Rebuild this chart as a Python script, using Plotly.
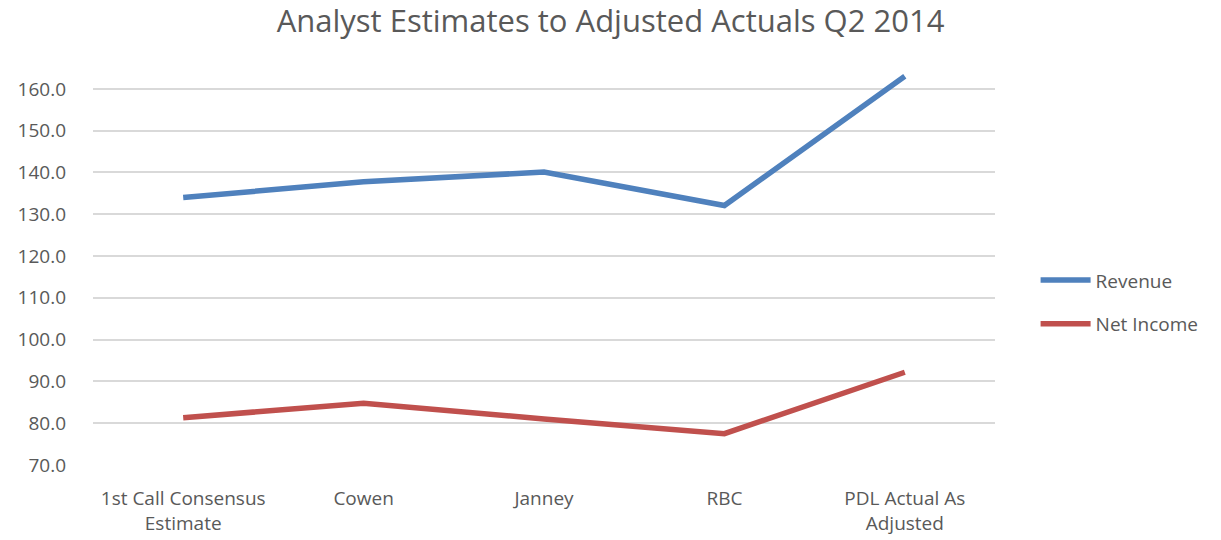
import plotly.graph_objects as go

categories = ["1st Call Consensus<br>Estimate", "Cowen", "Janney", "RBC", "PDL Actual As<br>Adjusted"]
revenue = [134.0, 137.8, 140.1, 132.1, 163.0]
net_income = [81.3, 84.8, 81.0, 77.5, 92.2]
y_ticks = [70, 80, 90, 100, 110, 120, 130, 140, 150, 160]

font_family = "Open Sans, Lato, sans-serif"
grey = "#595959"

fig = go.Figure()
fig.add_trace(go.Scatter(x=categories, y=revenue, mode="lines", name="Revenue",
                         legendgroup="a",
                         line=dict(color="#4F81BD", width=5.5)))
fig.add_trace(go.Scatter(x=categories, y=net_income, mode="lines", name="Net Income",
                         legendgroup="b",
                         line=dict(color="#C0504D", width=5.5)))

fig.update_layout(
    width=1221, height=540,
    paper_bgcolor="white", plot_bgcolor="white",
    margin=dict(l=93, r=226, t=68, b=75, autoexpand=False),
    title=dict(text="Analyst Estimates to Adjusted Actuals Q2 2014", x=0.5, xref="container",
               xanchor="center", y=0.981, yref="container", yanchor="top",
               pad=dict(t=0, b=0),
               font=dict(family=font_family, size=31, color=grey)),
    font=dict(family=font_family, size=19, color=grey),
    legend=dict(x=1.045, y=0.41, xanchor="left", yanchor="middle",
                font=dict(size=19, color=grey), tracegroupgap=16,
                itemwidth=50),
    showlegend=True,
)
fig.update_xaxes(type="category", range=[-0.5, 4.5], showgrid=False, showline=False,
                 zeroline=False, ticks="", ticklabelstandoff=20, automargin=False,
                 tickfont=dict(size=19, color=grey))
fig.update_yaxes(range=[70, 165], tickvals=y_ticks,
                 ticktext=[f"{v:.1f}" for v in y_ticks],
                 showgrid=True, gridcolor="#D9D9D9", gridwidth=1.5, automargin=False,
                 zeroline=False, showline=False, ticks="", ticklabelstandoff=26,
                 tickfont=dict(size=19, color=grey))

fig.write_html("out.html", config={"displayModeBar": False},
               post_script="document.body.style.margin='0';")
